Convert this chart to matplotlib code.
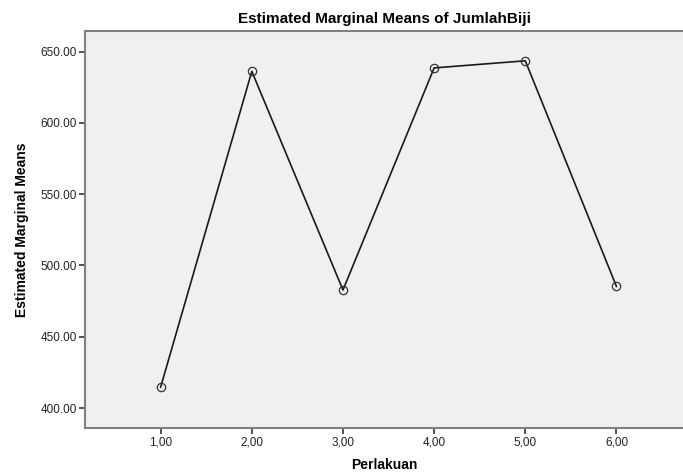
import matplotlib.pyplot as plt
from matplotlib.ticker import FuncFormatter

perlakuan = [1, 2, 3, 4, 5, 6]
means = [414.7, 636.2, 482.8, 638.6, 643.6, 485.3]
yticks = [400, 450, 500, 550, 600, 650]

plt.rcParams['font.family'] = ['Liberation Sans', 'DejaVu Sans']

fig = plt.figure(figsize=(6.83, 4.74), dpi=100)
ax = fig.add_axes([85/683, 46/474, 1 - 85/683, (428-31)/474])
ax.set_facecolor('#f0f0f0')

ax.plot(perlakuan, means, color='#1a1a1a', lw=1.2, marker='o', ms=6,
        mfc='none', mec='#333333', mew=0.9)

ax.set_xlim(0.17, 6.73)
ax.set_ylim(386, 664.5)
ax.set_xticks(perlakuan)
ax.set_yticks(yticks)
ax.xaxis.set_major_formatter(FuncFormatter(lambda v, p: f"{v:.2f}".replace('.', ',')))
ax.yaxis.set_major_formatter(FuncFormatter(lambda v, p: f"{v:.2f}"))

# plot area runs off the right edge in the original screenshot
for s in ['top', 'bottom', 'left']:
    ax.spines[s].set_color('#808080')
    ax.spines[s].set_linewidth(1.5)
ax.spines['right'].set_visible(False)
ax.tick_params(axis='both', length=4, width=1.2, color='#333333',
               labelsize=8.5, labelcolor='#222222', pad=2)

ax.set_title('Estimated Marginal Means of JumlahBiji', fontsize=11,
             fontweight='bold', pad=6)
ax.set_xlabel('Perlakuan', fontsize=10, fontweight='bold', labelpad=7)
ax.set_ylabel('Estimated Marginal Means', fontsize=10, fontweight='bold',
              family=['Liberation Sans Narrow', 'Liberation Sans'], labelpad=8)

fig.savefig('out.png', dpi=100)
